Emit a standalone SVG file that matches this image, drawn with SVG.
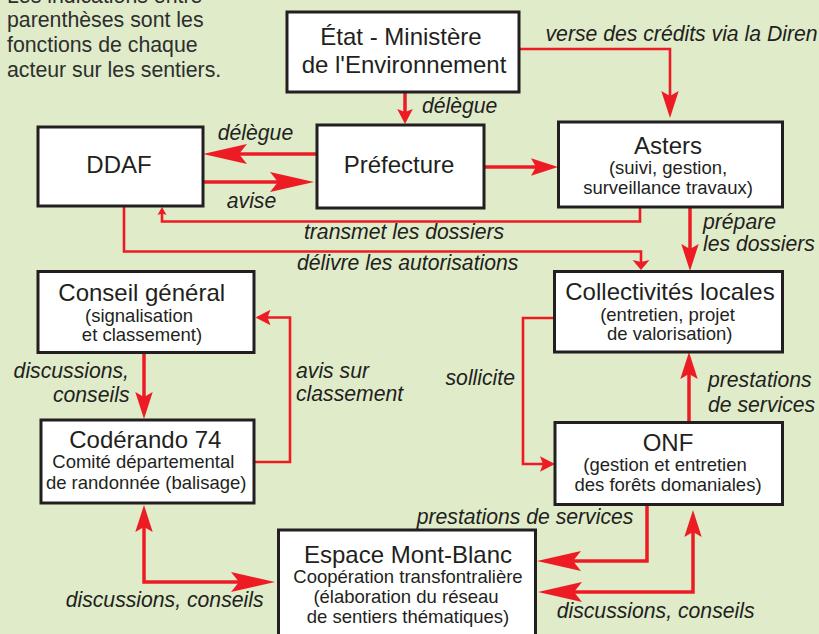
<svg xmlns="http://www.w3.org/2000/svg" width="819" height="634" viewBox="0 0 819 634">
<defs>
<style>
.bg{fill:#dfebc9}
.box{fill:#fff;stroke:#231f20;stroke-width:3}
.t{font-family:"Liberation Sans",Arial,sans-serif;fill:#231f20;text-anchor:middle}
.h{font-size:24px}
.s{font-size:18.5px}
.lbl{font-family:"Liberation Sans",Arial,sans-serif;font-style:italic;font-size:21.2px;fill:#231f20}
.note{font-family:"Liberation Sans",Arial,sans-serif;font-size:21.3px;fill:#2e2e2e}
.c{fill:none;stroke:#ed1c24}
.w1{stroke-width:3.5}
.w2{stroke-width:2.6}
</style>
<marker id="big" markerUnits="userSpaceOnUse" markerWidth="46" markerHeight="22" viewBox="0 -11 46 22" refX="10" refY="0" orient="auto-start-reverse"><path d="M0,-10 L44,0 L0,10 L8,0 Z" fill="#ed1c24"/></marker>
<marker id="med" markerUnits="userSpaceOnUse" markerWidth="29" markerHeight="20" viewBox="0 -10 29 20" refX="7" refY="0" orient="auto-start-reverse"><path d="M0,-8.7 L27,0 L0,8.7 L5,0 Z" fill="#ed1c24"/></marker>
<marker id="sm" markerUnits="userSpaceOnUse" markerWidth="17" markerHeight="18" viewBox="0 -9 17 18" refX="5" refY="0" orient="auto-start-reverse"><path d="M0,-7.8 L15,0 L0,7.8 L3,0 Z" fill="#ed1c24"/></marker>
<marker id="sh" markerUnits="userSpaceOnUse" markerWidth="12" markerHeight="20" viewBox="0 -10 12 20" refX="3" refY="0" orient="auto-start-reverse"><path d="M0,-8.5 L10,0 L0,8.5 L2,0 Z" fill="#ed1c24"/></marker>
<marker id="tiny" markerUnits="userSpaceOnUse" markerWidth="10" markerHeight="12" viewBox="0 -6 10 12" refX="2.5" refY="0" orient="auto-start-reverse"><path d="M0,-4.5 L8,0 L0,4.5 L1.5,0 Z" fill="#ed1c24"/></marker>
</defs>
<rect class="bg" x="0" y="0" width="819" height="634"/>

<g id="note">
<text class="note" x="7" y="2.6">Les indications entre</text>
<text class="note" x="7" y="27.3">parenthèses sont les</text>
<text class="note" x="7" y="52.3">fonctions de chaque</text>
<text class="note" x="7" y="76.7">acteur sur les sentiers.</text>
</g>

<g id="connectors">
<path class="c w1" d="M405,92 V114" marker-end="url(#sm)"/>
<path class="c w2" d="M519,49 H670 V98" marker-end="url(#med)"/>
<path class="c w1" d="M317,154 H237" marker-end="url(#big)"/>
<path class="c w1" d="M202,182 H280" marker-end="url(#big)"/>
<path class="c w1" d="M484,167 H538" marker-end="url(#med)"/>
<path class="c w2" d="M640,207 V221.5 H162 V212.5" marker-end="url(#tiny)"/>
<path class="c w2" d="M124,206 V251.5 H641 V263" marker-end="url(#sh)"/>
<path class="c w1" d="M690,207 V251" marker-end="url(#med)"/>
<path class="c w1" d="M144,352 V399" marker-end="url(#med)"/>
<path class="c w2" d="M254,462 H290 V317.5 H265.5" marker-end="url(#sm)"/>
<path class="c w2" d="M554,318 H523 V464 H545" marker-end="url(#sm)"/>
<path class="c w1" d="M689,422 V372" marker-end="url(#med)"/>
<path class="c w1" d="M647,505 V561 H571" marker-end="url(#big)"/>
<path class="c w1" d="M572,592 H693 V530" marker-start="url(#big)" marker-end="url(#med)"/>
<path class="c w1" d="M144,525 V582 H241" marker-start="url(#med)" marker-end="url(#big)"/>
</g>

<g id="labels">
<text class="lbl" x="545.5" y="41">verse des crédits via la Diren</text>
<text class="lbl" x="422" y="113">délègue</text>
<text class="lbl" x="255.5" y="140" text-anchor="middle">délègue</text>
<text class="lbl" x="251.5" y="208" text-anchor="middle">avise</text>
<text class="lbl" x="404" y="238.5" text-anchor="middle">transmet les dossiers</text>
<text class="lbl" x="407.7" y="270" text-anchor="middle">délivre les autorisations</text>
<text class="lbl" x="703" y="228.5">prépare</text>
<text class="lbl" x="703" y="251">les dossiers</text>
<text class="lbl" x="129" y="378" text-anchor="end">discussions,</text>
<text class="lbl" x="129.5" y="401.5" text-anchor="end">conseils</text>
<text class="lbl" x="296" y="377.5">avis sur</text>
<text class="lbl" x="296" y="401">classement</text>
<text class="lbl" x="515" y="385" text-anchor="end">sollicite</text>
<text class="lbl" x="708" y="387">prestations</text>
<text class="lbl" x="708" y="412">de services</text>
<text class="lbl" x="416.7" y="524">prestations de services</text>
<text class="lbl" x="556.7" y="618">discussions, conseils</text>
<text class="lbl" x="65.7" y="607">discussions, conseils</text>
</g>

<g id="etat">
<rect class="box" x="287" y="12" width="232" height="80"/>
<text class="t h" x="401" y="45">État - Ministère</text>
<text class="t h" x="404" y="72.7">de l'Environnement</text>
</g>
<g id="ddaf">
<rect class="box" x="38" y="127" width="165" height="79"/>
<text class="t h" x="119" y="173">DDAF</text>
</g>
<g id="prefecture">
<rect class="box" x="317" y="125" width="167" height="83"/>
<text class="t h" x="399" y="173">Préfecture</text>
</g>
<g id="asters">
<rect class="box" x="558.5" y="122" width="224" height="85"/>
<text class="t h" x="668" y="154">Asters</text>
<text class="t s" x="668" y="173.5">(suivi, gestion,</text>
<text class="t s" x="668" y="193.5">surveillance travaux)</text>
</g>
<g id="collectivites">
<rect class="box" x="554.5" y="271.5" width="228" height="80.5"/>
<text class="t h" x="670" y="300">Collectivités locales</text>
<text class="t s" x="667.5" y="320.7">(entretien, projet</text>
<text class="t s" x="669.7" y="340">de valorisation)</text>
</g>
<g id="conseil">
<rect class="box" x="38" y="271.5" width="216" height="81"/>
<text class="t h" x="141.7" y="300.7">Conseil général</text>
<text class="t s" x="139" y="321.7">(signalisation</text>
<text class="t s" x="142" y="341">et classement)</text>
</g>
<g id="coderando">
<rect class="box" x="41" y="420" width="213" height="83"/>
<text class="t h" x="145.3" y="448.3">Codérando 74</text>
<text class="t s" x="143.3" y="468.3">Comité départemental</text>
<text class="t s" x="146.2" y="489.3">de randonnée (balisage)</text>
</g>
<g id="onf">
<rect class="box" x="555" y="422.5" width="227.5" height="82"/>
<text class="t h" x="668" y="450.7">ONF</text>
<text class="t s" x="665" y="471">(gestion et entretien</text>
<text class="t s" x="668" y="491">des forêts domaniales)</text>
</g>
<g id="espace">
<rect class="box" x="278.5" y="530" width="257" height="115"/>
<text class="t h" x="408" y="563.3">Espace Mont-Blanc</text>
<text class="t s" x="408" y="583.3">Coopération transfontralière</text>
<text class="t s" x="406" y="603.3">(élaboration du réseau</text>
<text class="t s" x="408" y="623.3">de sentiers thématiques)</text>
</g>
</svg>
